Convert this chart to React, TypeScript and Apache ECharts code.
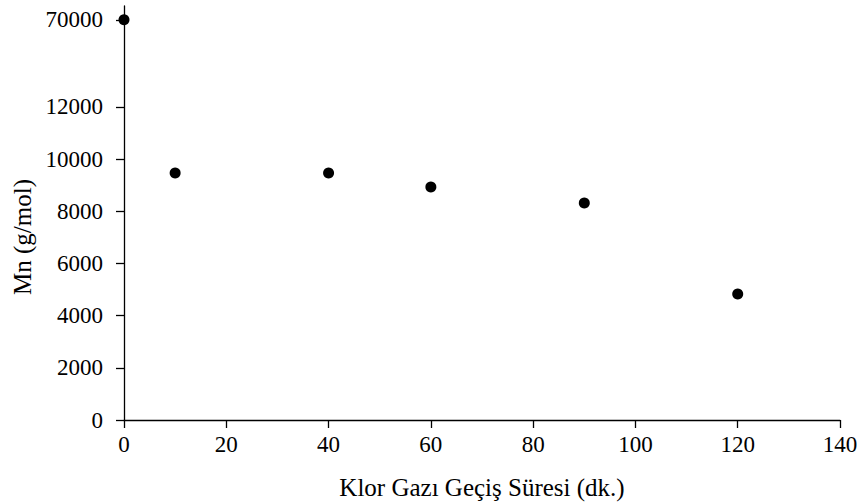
import React, { useEffect, useRef } from "react";
import * as echarts from "echarts";

const xValues = [0, 10, 40, 60, 90, 120];
const mnValues = [70000, 9470, 9470, 8930, 8320, 4830];
const yTickValues = [0, 2000, 4000, 6000, 8000, 10000, 12000, 70000];
const xTitle = "Klor Gazı Geçiş Süresi (dk.)";
const yTitle = "Mn (g/mol)";

// broken axis: linear up to 12000, then the 70000 value sits at a fixed display position
const BREAK_LIMIT = 12000;
const BREAK_DISPLAY = 15340;
const AXIS_MAX = 15870;
const toDisplay = (v: number) => (v > BREAK_LIMIT ? BREAK_DISPLAY : v);
const fromDisplay = (d: number) => (d === BREAK_DISPLAY ? 70000 : d);

const FONT = "Liberation Serif";

export default function App() {
  const ref = useRef<HTMLDivElement>(null);
  useEffect(() => {
    if (!ref.current) return;
    const chart = echarts.init(ref.current, undefined, { renderer: "svg" });
    const tickDisplay = yTickValues.map(toDisplay);
    chart.setOption({
      animation: false,
      backgroundColor: "#ffffff",
      grid: { left: 124, right: 21, top: 6, bottom: 84, containLabel: false },
      xAxis: {
        type: "value",
        min: 0,
        max: 140,
        interval: 20,
        axisLine: { show: true, lineStyle: { color: "#000", width: 1.3 } },
        axisTick: { show: true, inside: false, length: 8, lineStyle: { color: "#000", width: 1.3 } },
        axisLabel: { color: "#000", fontFamily: FONT, fontSize: 23, margin: 13 },
        splitLine: { show: false },
      },
      yAxis: {
        type: "value",
        min: 0,
        max: AXIS_MAX,
        axisLine: { show: true, onZero: false, lineStyle: { color: "#000", width: 1.3 } },
        axisTick: {
          show: true,
          inside: false,
          length: 8,
          customValues: tickDisplay,
          lineStyle: { color: "#000", width: 1.3 },
        },
        axisLabel: {
          color: "#000",
          fontFamily: FONT,
          fontSize: 23,
          margin: 21,
          customValues: tickDisplay,
          formatter: (v: number) => String(fromDisplay(v)),
        },
        splitLine: { show: false },
      },
      graphic: [
        {
          type: "text",
          x: 22,
          y: 237,
          rotation: Math.PI / 2,
          style: {
            text: yTitle,
            fill: "#000",
            font: `25px "${FONT}"`,
            align: "center",
            verticalAlign: "middle",
          },
        },
        {
          type: "text",
          x: 482,
          y: 487,
          style: {
            text: xTitle,
            fill: "#000",
            font: `25px "${FONT}"`,
            align: "center",
            verticalAlign: "middle",
          },
        },
      ],
      series: [
        {
          type: "scatter",
          symbol: "circle",
          symbolSize: 11,
          itemStyle: { color: "#000", opacity: 1 },
          data: xValues.map((x, i) => [x, toDisplay(mnValues[i])]),
          clip: false,
        },
      ],
    });
    return () => chart.dispose();
  }, []);
  return (
    <div
      ref={ref}
      style={{ position: "fixed", left: 0, top: 0, width: 861, height: 504 }}
    />
  );
}
